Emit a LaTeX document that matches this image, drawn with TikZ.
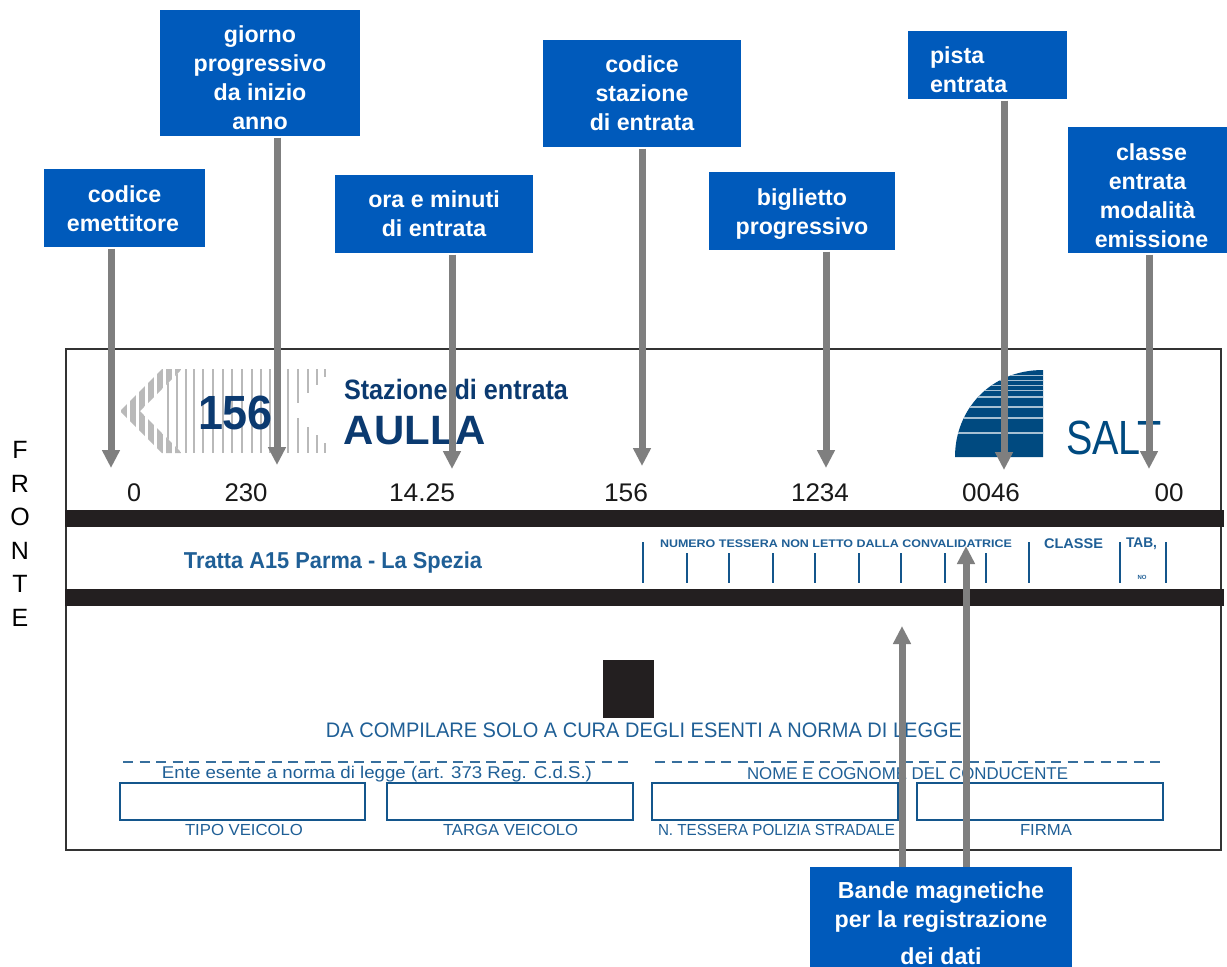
\documentclass[tikz,border=0pt]{standalone}
\usepackage{fontspec}
\setmainfont{Liberation Sans}
\usetikzlibrary{arrows.meta}
\definecolor{boxblue}{HTML}{005ABB}
\definecolor{arrowgrey}{HTML}{7F7F7F}
\definecolor{barblack}{HTML}{231F20}
\definecolor{formblue}{HTML}{1F5F96}
\definecolor{lineblue}{HTML}{14568C}
\definecolor{logoblue}{HTML}{004A80}
\definecolor{navy}{HTML}{0B3A70}
\definecolor{stripe}{HTML}{B9B9B9}
\tikzset{
  labelbox/.style={fill=boxblue,text=white,inner sep=0pt,align=center,font=\bfseries\fontsize{23.2}{29}\selectfont},
  callout/.style={draw=arrowgrey,line width=7pt,shorten <=1.5pt,-{Triangle[width=17pt,length=18pt]}},
  formtext/.style={inner sep=0pt,text=formblue},
  numtext/.style={inner sep=0pt,text=black!90},
  fieldbox/.style={draw=lineblue,line width=2pt,inner sep=0pt},
  tick/.style={draw=lineblue,line width=2pt},
  blackbar/.style={fill=barblack,inner sep=0pt}
}
% name, x1, x2, y1, y2, last baseline, extra options, text
\newcommand\lbox[8]{\node[labelbox,minimum width=#3pt-#2pt,minimum height=#5pt-#4pt,text height=#6pt-#4pt,text depth=#5pt-#6pt,#7] (#1) at ({(#2+#3)/2},{(#4+#5)/2}) {#8};}
% name, x, y, width, font size, style, text
\newcommand\ftext[7]{\node[#6] (#1) at (#2,#3) {\resizebox{#4pt}{\height}{\fontsize{#5}{#5}\selectfont #7}};}
\begin{document}
\begin{tikzpicture}[x=1pt,y=-1pt]
\useasboundingbox (0,0) rectangle (1227,967);
\fill[white] (0,0) rectangle (1227,967);
% ticket
\node[draw=black!80,line width=2pt,inner sep=0pt,minimum width=1155pt,minimum height=501pt] (ticket) at (643,599.5) {};
\node[blackbar,minimum width=1159pt,minimum height=17pt] (bartop) at (644.5,518.5) {};
\node[blackbar,minimum width=1159pt,minimum height=17pt] (barbottom) at (644.5,597.5) {};
\node[blackbar,minimum width=51pt,minimum height=58pt] (square) at (628.5,689) {};
% grey arrow logo
\begin{scope}
\clip (120,411) -- (162,369) -- (182,369) -- (140,411) -- (182,453) -- (162,453) -- cycle;
\foreach \x in {124,133,142,151,160,169,178} \fill[stripe] (\x-3.4,360) rectangle (\x+3.4,460);
\end{scope}
\begin{scope}
\clip (140,411) -- (182,369) -- (182,453) -- cycle;
\foreach \x in {168,177} \fill[stripe] (\x-1.3,360) rectangle (\x+1.3,460);
\end{scope}
\foreach \x in {186,194,203,213,223,232,242,252,261,270,279,288} \fill[stripe] (\x-1.3,369) rectangle (\x+1.3,453);
\foreach \x/\a/\b in {298/403/418,308/393/427,317/385/435,325/377/443}{
  \fill[stripe] (\x-1.3,369) rectangle (\x+1.3,\a);
  \fill[stripe] (\x-1.3,\b) rectangle (\x+1.3,453);
}
\ftext{logonum}{235.5}{412.5}{75}{48}{inner sep=0pt,text=navy,font=\bfseries}{156}
\ftext{stazione}{456}{389}{224}{28}{inner sep=0pt,text=navy,font=\bfseries}{Stazione di entrata}
\ftext{aulla}{415}{431}{142}{41}{inner sep=0pt,text=navy,font=\bfseries}{AULLA}
% SALT logo
\begin{scope}
\clip (955,457) .. controls (955,410) and (990,370) .. (1043,370) -- (1043,457) -- cycle;
\fill[logoblue] (945,365) rectangle (1045,460);
\foreach \y/\w in {433/1.5,418/1.4,407/1.2,397/1.1,390/1,385/.9,380/.8,375/.7}
  \draw[logoblue!35,line width=\w pt] (945,\y) -- (1045,\y);
\end{scope}
\ftext{salt}{1114}{437.5}{96}{48}{inner sep=0pt,text=logoblue}{SALT}
% printed numbers
\ftext{n0}{134}{493}{14}{25.5}{numtext}{0}
\ftext{n230}{246}{493}{43}{25.5}{numtext}{230}
\ftext{n1425}{422}{493}{66}{25.5}{numtext}{14.25}
\ftext{n156}{626}{493}{44}{25.5}{numtext}{156}
\ftext{n1234}{820}{493}{58}{25.5}{numtext}{1234}
\ftext{n0046}{991}{493}{58}{25.5}{numtext}{0046}
\ftext{n00}{1169}{493}{29}{25.5}{numtext}{00}
% middle strip
\ftext{tratta}{333}{563}{298}{23}{formtext,font=\bfseries}{Tratta A15 Parma - La Spezia}
\ftext{numero}{836}{544}{352}{11}{formtext,font=\bfseries}{NUMERO TESSERA NON LETTO DALLA CONVALIDATRICE}
\ftext{classe}{1073.5}{544}{59}{14}{formtext,font=\bfseries}{CLASSE}
\ftext{tab}{1141.5}{544}{31}{14}{formtext,font=\bfseries}{TAB,}
\ftext{no}{1142}{577.5}{9}{6}{formtext,font=\bfseries}{NO}
\foreach \x in {643,1029,1120,1166} \draw[tick] (\x,542) -- (\x,583);
\foreach \x in {687,729,773,815,859,901,945,986} \draw[tick] (\x,553) -- (\x,583);
% lower form
\ftext{compilare}{644}{730}{636}{21}{formtext}{DA COMPILARE SOLO A CURA DEGLI ESENTI A NORMA DI LEGGE}
\draw[lineblue!85,line width=2pt,dash pattern=on 10pt off 6.5pt] (123,762) -- (632,762);
\draw[lineblue!85,line width=2pt,dash pattern=on 10pt off 6.5pt] (655,762) -- (1163,762);
\ftext{ente}{377}{774.5}{430}{17}{formtext}{Ente esente a norma di legge (art. 373 Reg. C.d.S.)}
\ftext{nome}{907.5}{774}{321}{17}{formtext}{NOME E COGNOME DEL CONDUCENTE}
\node[fieldbox,minimum width=245pt,minimum height=37pt] (f1) at (242.5,801.5) {};
\node[fieldbox,minimum width=246pt,minimum height=37pt] (f2) at (510,801.5) {};
\node[fieldbox,minimum width=246pt,minimum height=37pt] (f3) at (775,801.5) {};
\node[fieldbox,minimum width=246pt,minimum height=37pt] (f4) at (1040,801.5) {};
\ftext{tipo}{244}{830}{118}{16}{formtext}{TIPO VEICOLO}
\ftext{targa}{510.5}{830}{135}{16}{formtext}{TARGA VEICOLO}
\ftext{tessera}{776.5}{830}{237}{16}{formtext}{N. TESSERA POLIZIA STRADALE}
\ftext{firma}{1046}{830}{52}{16}{formtext}{FIRMA}
% FRONTE
\node[inner sep=0pt,font=\fontsize{25}{25}\selectfont] (lf) at (20,449.5) {F};
\node[inner sep=0pt,font=\fontsize{25}{25}\selectfont] (lr) at (20,484) {R};
\node[inner sep=0pt,font=\fontsize{25}{25}\selectfont] (lo) at (20,517) {O};
\node[inner sep=0pt,font=\fontsize{25}{25}\selectfont] (ln) at (20,550.5) {N};
\node[inner sep=0pt,font=\fontsize{25}{25}\selectfont] (lt) at (20,584) {T};
\node[inner sep=0pt,font=\fontsize{25}{25}\selectfont] (le) at (20,618) {E};
% blue boxes
\lbox{bemit}{44}{205}{169}{247}{231}{}{codice\\\hspace*{-3pt}emettitore}
\lbox{bgiorno}{160}{360}{10}{136}{129}{}{giorno\\progressivo\\da inizio\\anno}
\lbox{bora}{335}{533}{175}{253}{236}{}{ora e minuti\\di entrata}
\lbox{bstaz}{543}{741}{40}{147}{130}{}{codice\\stazione\\di entrata}
\lbox{bbigl}{709}{895}{172}{250}{234}{}{biglietto\\progressivo}
\node[labelbox,align=left,text width=115pt,inner xsep=22pt,text height=32pt,text depth=36pt] (bpista) at (987.5,65) {pista\\entrata};
\lbox{bclasse}{1068}{1227}{127}{253}{247}{}{\hspace*{8pt}classe\\entrata\\modalità\\\hspace*{8pt}emissione}
\lbox{bbande}{810}{1072}{867}{967}{964}{}{Bande magnetiche\\per la registrazione\\[8pt]dei dati}
% arrows
\coordinate (temit) at (111,468);
\coordinate (tgiorno) at (277,465);
\coordinate (tora) at (452,469);
\coordinate (tstaz) at (642,466);
\coordinate (tbigl) at (826,468);
\coordinate (tpista) at (1004,470);
\coordinate (tclasse) at (1149,469);
\coordinate (tband) at (902,626);
\coordinate (tbanb) at (966,546);
\draw[callout] (bemit.south -| temit) -- (temit);
\draw[callout] (bgiorno.south -| tgiorno) -- (tgiorno);
\draw[callout] (bora.south -| tora) -- (tora);
\draw[callout] (bstaz.south -| tstaz) -- (tstaz);
\draw[callout] (bbigl.south -| tbigl) -- (tbigl);
\draw[callout] (bpista.south -| tpista) -- (tpista);
\draw[callout] (bclasse.south -| tclasse) -- (tclasse);
\draw[callout,shorten <=0pt] (bbande.north -| tband) -- (tband);
\draw[callout,shorten <=0pt] (bbande.north -| tbanb) -- (tbanb);
\end{tikzpicture}
\end{document}
